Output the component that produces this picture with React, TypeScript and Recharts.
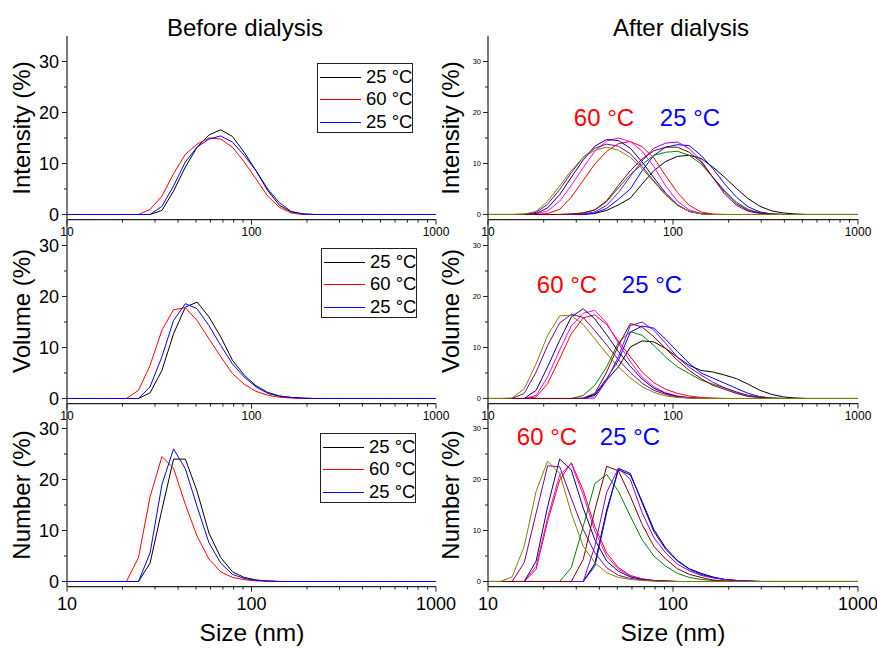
import { Line, LineChart, XAxis, YAxis } from "recharts"

const FONT = '"Liberation Sans", Arial, sans-serif'
const AXIS = "#222"

// Zetasizer size bins (nm) that fall in / next to the 10-1000 window
const sizeBins = [
  8.72, 10.1, 11.7, 13.5, 15.7, 18.2, 21.0, 24.4, 28.2, 32.7, 37.8, 43.8, 50.7,
  58.8, 68.1, 78.8, 91.3, 105.7, 122.4, 141.8, 164.2, 190.1, 220.2, 255.0,
  295.3, 342.0, 396.1, 458.7, 531.2, 615.1, 712.4, 825.0, 955.4, 1106,
]
const sizeTicks = [10, 20, 30, 40, 50, 60, 70, 80, 90, 100, 200, 300, 400, 500, 600, 700, 800, 900, 1000]
const sizeLabels = [10, 100, 1000]
const percentTicks = [0, 5, 10, 15, 20, 25, 30]
const percentLabels = [0, 10, 20, 30]

type Peak = { from: number; values: number[] }

// before dialysis
const beforeIntensity25a: Peak = { from: 8, values: [0, 0.8, 4.6, 9.3, 13.2, 15.6, 16.6, 15.3, 12.2, 8.6, 4.7, 1.8, 0.5, 0.1] }
const beforeIntensity60: Peak = { from: 7, values: [0, 1.0, 3.6, 8.0, 11.8, 13.8, 15.0, 14.8, 13.2, 10.3, 7.0, 3.6, 1.4, 0.3] }
const beforeIntensity25b: Peak = { from: 8, values: [0, 1.6, 5.6, 10.3, 13.2, 14.8, 15.4, 14.2, 11.6, 8.6, 5.0, 2.3, 0.6, 0.1] }

const beforeVolume25a: Peak = { from: 7, values: [0, 1.1, 5.5, 12.7, 17.9, 18.9, 16.0, 12.1, 7.5, 4.6, 2.5, 1.2, 0.5, 0.2, 0.07] }
const beforeVolume60: Peak = { from: 6, values: [0, 1.6, 6.5, 13.4, 17.4, 17.8, 15.3, 11.7, 8.2, 4.9, 2.8, 1.4, 0.65, 0.25, 0.1] }
const beforeVolume25b: Peak = { from: 7, values: [0, 2.3, 8.2, 15.3, 18.6, 17.6, 14.3, 10.4, 6.8, 4.2, 2.3, 1.0, 0.45, 0.2, 0.05] }

const beforeNumber25a: Peak = { from: 7, values: [0, 3.6, 14.1, 24.0, 24.0, 17.7, 9.5, 4.7, 1.9, 0.8, 0.3, 0.1] }
const beforeNumber60: Peak = { from: 6, values: [0, 4.7, 16.6, 24.5, 22.2, 15.1, 8.9, 4.4, 1.9, 0.8, 0.35, 0.12, 0.05] }
const beforeNumber25b: Peak = { from: 7, values: [0, 5.6, 19.0, 26.0, 22.1, 14.7, 7.6, 3.6, 1.4, 0.6, 0.25, 0.1] }

// after dialysis, 25 °C group
const afterIntensityBlack: Peak = { from: 10, values: [0.2, 0.8, 1.9, 3.2, 6.0, 8.6, 10.4, 11.4, 11.6, 11.0, 9.3, 7.3, 5.1, 3.1, 1.6, 0.7, 0.3, 0.1] }
const afterIntensityBlue: Peak = { from: 9, values: [0.05, 0.3, 1.2, 3.0, 5.0, 8.6, 11.6, 13.2, 13.7, 13.5, 11.6, 9.0, 6.0, 3.4, 1.5, 0.5, 0.1] }
const afterIntensityViolet: Peak = { from: 9, values: [0.1, 0.5, 1.8, 4.3, 7.5, 10.5, 13.0, 14.0, 14.2, 12.9, 10.6, 7.3, 4.0, 1.8, 0.6, 0.2] }
const afterIntensityWine: Peak = { from: 8, values: [0.1, 0.3, 0.9, 2.7, 5.7, 8.6, 10.9, 12.5, 13.2, 13.2, 12.2, 10.3, 7.3, 4.4, 2.1, 0.8, 0.3, 0.1] }
const afterIntensityGreen: Peak = { from: 8, values: [0.1, 0.3, 0.9, 2.5, 5.2, 7.9, 9.8, 11.6, 12.2, 12.4, 11.6, 9.9, 7.3, 4.7, 2.4, 1.0, 0.3, 0.1] }
// after dialysis, 60 °C group
const afterIntensityRed: Peak = { from: 6, values: [0.2, 1.0, 3.4, 6.7, 9.9, 12.4, 13.9, 14.3, 13.3, 11.1, 7.6, 4.3, 1.8, 0.5, 0.1] }
const afterIntensityMagenta: Peak = { from: 5, values: [0.1, 0.7, 2.6, 5.7, 9.2, 12.4, 14.4, 15.0, 14.3, 12.4, 9.4, 5.6, 2.6, 0.9, 0.2] }
const afterIntensityNavy: Peak = { from: 5, values: [0.2, 1.3, 3.9, 7.3, 10.7, 13.4, 14.7, 14.5, 13.0, 10.3, 7.2, 4.2, 1.9, 0.6, 0.15] }
const afterIntensityPurple: Peak = { from: 4, values: [0.05, 0.4, 2.0, 4.9, 8.2, 11.2, 13.0, 13.8, 13.4, 11.9, 9.4, 6.6, 3.9, 1.8, 0.6, 0.15] }
const afterIntensityOlive: Peak = { from: 4, values: [0.1, 0.6, 2.6, 5.6, 8.6, 11.2, 12.6, 13.2, 12.6, 11.2, 9.0, 6.4, 3.8, 1.8, 0.6, 0.15] }

const afterVolumeBlack: Peak = { from: 10, values: [0.6, 3.6, 6.2, 10.1, 11.3, 11.1, 9.8, 8.1, 6.5, 5.5, 5.2, 4.6, 3.9, 2.8, 1.6, 0.8, 0.3, 0.1] }
const afterVolumeBlue: Peak = { from: 10, values: [0.8, 3.9, 7.5, 13.0, 14.2, 13.8, 11.6, 9.2, 6.9, 5.0, 4.0, 3.0, 2.0, 1.0, 0.35, 0.1] }
const afterVolumeViolet: Peak = { from: 10, values: [0.1, 3.6, 8.2, 14.3, 15.0, 13.4, 10.8, 8.1, 6.1, 4.6, 3.2, 2.1, 1.2, 0.6, 0.2] }
const afterVolumeWine: Peak = { from: 9, values: [0.1, 1.0, 5.2, 10.4, 14.7, 14.0, 12.1, 9.8, 7.5, 5.5, 3.9, 2.6, 1.8, 1.0, 0.4, 0.2] }
const afterVolumeGreen: Peak = { from: 8, values: [0, 0.6, 2.6, 6.2, 11.0, 13.1, 12.4, 10.4, 8.1, 6.2, 4.9, 3.6, 2.8, 2.1, 1.3, 0.6, 0.3, 0.1] }
const afterVolumeRed: Peak = { from: 5, values: [0.3, 2.9, 7.8, 12.7, 15.8, 16.4, 14.5, 11.2, 8.2, 5.2, 3.1, 1.8, 1.0, 0.5, 0.2, 0.1] }
const afterVolumeMagenta: Peak = { from: 5, values: [0.6, 4.2, 9.5, 14.2, 16.7, 17.3, 14.8, 10.8, 7.2, 4.2, 2.3, 1.1, 0.5, 0.2] }
const afterVolumeNavy: Peak = { from: 5, values: [1.6, 6.2, 11.4, 16.0, 17.6, 15.6, 12.5, 9.2, 6.3, 3.8, 2.0, 1.0, 0.4, 0.15] }
const afterVolumePurple: Peak = { from: 4, values: [1.0, 5.2, 10.4, 14.8, 16.5, 15.9, 13.3, 10.5, 7.6, 5.1, 3.0, 1.6, 0.8, 0.3, 0.1] }
const afterVolumeOlive: Peak = { from: 3, values: [0.1, 1.9, 6.8, 12.4, 16.2, 16.3, 14.5, 11.7, 8.8, 6.2, 4.0, 2.3, 1.2, 0.5, 0.2, 0.1] }

const afterNumberBlack: Peak = { from: 9, values: [0, 3.5, 14.0, 21.9, 20.9, 15.7, 10.2, 6.6, 4.1, 2.5, 1.6, 0.9, 0.4, 0.2, 0.1] }
const afterNumberBlue: Peak = { from: 9, values: [0, 3.0, 13.5, 22.2, 21.2, 15.4, 9.8, 6.3, 4.0, 2.4, 1.4, 0.8, 0.4, 0.2, 0.1] }
const afterNumberViolet: Peak = { from: 9, values: [0, 6.9, 17.5, 22.2, 20.0, 13.5, 8.6, 5.6, 3.4, 2.1, 1.2, 0.7, 0.4, 0.2, 0.1] }
const afterNumberWine: Peak = { from: 8, values: [0, 4.3, 14.0, 22.6, 21.7, 16.7, 11.2, 6.9, 4.4, 2.5, 1.4, 0.8, 0.3, 0.1] }
const afterNumberGreen: Peak = { from: 7, values: [0, 2.7, 10.8, 19.2, 21.0, 17.7, 12.8, 8.2, 5.0, 3.0, 1.6, 0.8, 0.4, 0.2, 0.1] }
const afterNumberRed: Peak = { from: 4, values: [0, 2.4, 11.8, 19.9, 23.3, 17.9, 10.8, 5.6, 2.7, 1.2, 0.5, 0.2, 0.1] }
const afterNumberMagenta: Peak = { from: 4, values: [0, 3.0, 12.5, 20.9, 23.1, 17.0, 9.9, 5.0, 2.4, 1.1, 0.5, 0.2, 0.1] }
const afterNumberNavy: Peak = { from: 4, values: [0, 4.0, 14.7, 24.0, 21.9, 14.4, 8.2, 4.0, 2.0, 0.9, 0.4, 0.2, 0.1] }
const afterNumberPurple: Peak = { from: 3, values: [0, 3.7, 13.4, 22.7, 22.5, 16.3, 10.2, 5.6, 2.7, 1.2, 0.6, 0.3, 0.1] }
const afterNumberOlive: Peak = { from: 2, values: [0, 0.9, 6.9, 17.7, 23.6, 21.2, 13.4, 6.9, 3.7, 1.7, 0.8, 0.4, 0.2, 0.1] }

const colors = {
  black: "#000000",
  red: "#ff0000",
  blue: "#0000ff",
  magenta: "#ff00ff",
  green: "#008000",
  navy: "#000080",
  violet: "#8000ff",
  purple: "#800080",
  wine: "#800000",
  olive: "#808000",
}

type Series = { color: string; peak: Peak }

const beforePanels: Series[][] = [
  [
    { color: colors.black, peak: beforeIntensity25a },
    { color: colors.red, peak: beforeIntensity60 },
    { color: colors.blue, peak: beforeIntensity25b },
  ],
  [
    { color: colors.black, peak: beforeVolume25a },
    { color: colors.red, peak: beforeVolume60 },
    { color: colors.blue, peak: beforeVolume25b },
  ],
  [
    { color: colors.black, peak: beforeNumber25a },
    { color: colors.red, peak: beforeNumber60 },
    { color: colors.blue, peak: beforeNumber25b },
  ],
]

const afterPanels: Series[][] = [
  [
    { color: colors.black, peak: afterIntensityBlack },
    { color: colors.red, peak: afterIntensityRed },
    { color: colors.blue, peak: afterIntensityBlue },
    { color: colors.magenta, peak: afterIntensityMagenta },
    { color: colors.green, peak: afterIntensityGreen },
    { color: colors.navy, peak: afterIntensityNavy },
    { color: colors.violet, peak: afterIntensityViolet },
    { color: colors.purple, peak: afterIntensityPurple },
    { color: colors.wine, peak: afterIntensityWine },
    { color: colors.olive, peak: afterIntensityOlive },
  ],
  [
    { color: colors.black, peak: afterVolumeBlack },
    { color: colors.red, peak: afterVolumeRed },
    { color: colors.blue, peak: afterVolumeBlue },
    { color: colors.magenta, peak: afterVolumeMagenta },
    { color: colors.green, peak: afterVolumeGreen },
    { color: colors.navy, peak: afterVolumeNavy },
    { color: colors.violet, peak: afterVolumeViolet },
    { color: colors.purple, peak: afterVolumePurple },
    { color: colors.wine, peak: afterVolumeWine },
    { color: colors.olive, peak: afterVolumeOlive },
  ],
  [
    { color: colors.black, peak: afterNumberBlack },
    { color: colors.red, peak: afterNumberRed },
    { color: colors.blue, peak: afterNumberBlue },
    { color: colors.magenta, peak: afterNumberMagenta },
    { color: colors.green, peak: afterNumberGreen },
    { color: colors.navy, peak: afterNumberNavy },
    { color: colors.violet, peak: afterNumberViolet },
    { color: colors.purple, peak: afterNumberPurple },
    { color: colors.wine, peak: afterNumberWine },
    { color: colors.olive, peak: afterNumberOlive },
  ],
]

const yTitles = ["Intensity (%)", "Volume (%)", "Number (%)"]

// layout (page pixels)
const PLOT_H = 183.6
const panelTops = [36, 219.6, 403.2]
const columns = [
  { pageX: 0, plotLeft: 67, plotRight: 436, width: 466 },
  { pageX: 440, plotLeft: 488, plotRight: 858, width: 437 },
]

function toRows(peak: Peak) {
  return sizeBins.map((x, i) => {
    const k = i - peak.from
    return { x, y: k >= 0 && k < peak.values.length ? peak.values[k] : 0 }
  })
}

function SizeTick(props: any) {
  const { x, y, payload, large } = props
  const v = payload.value as number
  const major = sizeLabels.includes(v)
  return (
    <g>
      <line x1={x} x2={x} y1={y} y2={y + (major ? 5 : 3)} stroke={AXIS} strokeWidth={1} />
      {major ? (
        <text
          x={x}
          y={y + (large ? 23 : 16)}
          textAnchor="middle"
          fontSize={large ? 18 : 12}
          fontFamily={FONT}
          fill="#000"
        >
          {v}
        </text>
      ) : null}
    </g>
  )
}

function PercentTick(props: any) {
  const { x, y, payload, big } = props
  const v = payload.value as number
  const major = percentLabels.includes(v)
  return (
    <g>
      <line x1={x - (major ? 5 : 3)} x2={x} y1={y} y2={y} stroke={AXIS} strokeWidth={1} />
      {major ? (
        <text
          x={x - (big ? 8 : 7)}
          y={y + (big ? 6.5 : 2.7)}
          textAnchor="end"
          fontSize={big ? 18 : 7.5}
          fontFamily={FONT}
          fill="#000"
        >
          {v}
        </text>
      ) : null}
    </g>
  )
}

function Panel({ col, row, series }: { col: number; row: number; series: Series[] }) {
  const c = columns[col]
  const yAxisWidth = c.plotLeft - c.pageX
  const plotW = c.plotRight - c.plotLeft
  const right = c.width - yAxisWidth - plotW
  const top = 6
  const xAxisHeight = 1
  const bottom = 40
  return (
    <div style={{ position: "absolute", left: c.pageX, top: panelTops[row] - top }}>
      <LineChart
        width={c.width}
        height={top + PLOT_H + xAxisHeight + bottom}
        margin={{ top, right, bottom, left: 0 }}
      >
        <XAxis
          dataKey="x"
          type="number"
          scale="log"
          domain={[10, 1000]}
          allowDataOverflow
          ticks={sizeTicks}
          interval={0}
          height={xAxisHeight}
          tickSize={0}
          tickMargin={0}
          tickLine={false}
          axisLine={{ stroke: AXIS, strokeWidth: 1.2 }}
          tick={(p: any) => <SizeTick {...p} large={row === 2} />}
        />
        <YAxis
          type="number"
          domain={[-1, 35]}
          allowDataOverflow
          ticks={percentTicks}
          interval={0}
          width={yAxisWidth}
          tickSize={0}
          tickMargin={0}
          tickLine={false}
          axisLine={{ stroke: AXIS, strokeWidth: 1.2 }}
          tick={(p: any) => <PercentTick {...p} big={col === 0} />}
        />
        {series.map((s, i) => (
          <Line
            key={i}
            data={toRows(s.peak)}
            dataKey="y"
            type="linear"
            stroke={s.color}
            strokeWidth={1}
            dot={false}
            activeDot={false}
            isAnimationActive={false}
          />
        ))}
      </LineChart>
    </div>
  )
}

function Text({
  x,
  y,
  size,
  color = "#000",
  rotate = false,
  children,
}: {
  x: number
  y: number
  size: number
  color?: string
  rotate?: boolean
  children: string
}) {
  return (
    <div
      style={{
        position: "absolute",
        left: x,
        top: y,
        transform: `translate(-50%, -50%)${rotate ? " rotate(-90deg)" : ""}`,
        fontFamily: FONT,
        fontSize: size,
        lineHeight: 1,
        color,
        whiteSpace: "nowrap",
      }}
    >
      {children}
    </div>
  )
}

const legendItems = [
  { label: "25 °C", color: colors.black },
  { label: "60 °C", color: colors.red },
  { label: "25 °C", color: colors.blue },
]
const legendRowsY = [13, 35, 58]
const legendBoxes = [
  { left: 317, top: 63 },
  { left: 321, top: 248 },
  { left: 320, top: 433 },
]

function LegendBox({ left, top }: { left: number; top: number }) {
  return (
    <div
      style={{
        position: "absolute",
        left,
        top,
        width: 96,
        height: 70,
        border: `1px solid ${AXIS}`,
        background: "#fff",
        boxSizing: "border-box",
      }}
    >
      {legendItems.map((item, i) => (
        <div key={i} style={{ position: "absolute", left: 2, top: legendRowsY[i], height: 0 }}>
          <div
            style={{
              position: "absolute",
              left: 0,
              top: 0,
              width: 41,
              height: 1,
              background: item.color,
            }}
          />
          <div
            style={{
              position: "absolute",
              left: 46,
              top: -10,
              fontFamily: FONT,
              fontSize: 18.5,
              lineHeight: "20px",
              whiteSpace: "nowrap",
            }}
          >
            {item.label}
          </div>
        </div>
      ))}
    </div>
  )
}

const annotations = [
  { red: { x: 604, y: 118 }, blue: { x: 690, y: 118 } },
  { red: { x: 567, y: 285 }, blue: { x: 652, y: 285 } },
  { red: { x: 547, y: 437 }, blue: { x: 630, y: 437 } },
]

export default function App() {
  return (
    <div
      style={{
        position: "absolute",
        left: 0,
        top: 0,
        width: 877,
        height: 648,
        background: "#fff",
        overflow: "hidden",
      }}
    >
      {beforePanels.map((s, row) => (
        <Panel key={`b${row}`} col={0} row={row} series={s} />
      ))}
      {afterPanels.map((s, row) => (
        <Panel key={`a${row}`} col={1} row={row} series={s} />
      ))}

      <Text x={245} y={28} size={24}>Before dialysis</Text>
      <Text x={681} y={28} size={24}>After dialysis</Text>

      {yTitles.map((t, row) => (
        <Text key={`yl${row}`} x={22} y={panelTops[row] + PLOT_H / 2} size={24} rotate>
          {t}
        </Text>
      ))}
      {yTitles.map((t, row) => (
        <Text key={`yr${row}`} x={451} y={panelTops[row] + PLOT_H / 2} size={24} rotate>
          {t}
        </Text>
      ))}

      <Text x={252} y={633} size={24.5}>Size (nm)</Text>
      <Text x={673} y={633} size={24.5}>Size (nm)</Text>

      {legendBoxes.map((b, i) => (
        <LegendBox key={`lg${i}`} left={b.left} top={b.top} />
      ))}

      {annotations.map((a, i) => (
        <div key={`an${i}`}>
          <Text x={a.red.x} y={a.red.y} size={24} color={colors.red}>60 °C</Text>
          <Text x={a.blue.x} y={a.blue.y} size={24} color={colors.blue}>25 °C</Text>
        </div>
      ))}
    </div>
  )
}
